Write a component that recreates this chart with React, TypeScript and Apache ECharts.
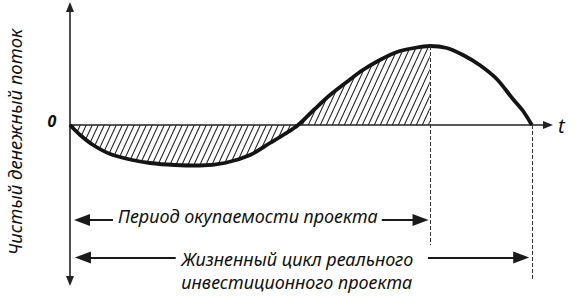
import React, { useEffect, useRef } from "react";
import * as echarts from "echarts";

// Time axis (arbitrary units) and net cash flow (arbitrary units)
const timePoints = [
  0, 0.22, 0.5, 0.87, 1.3, 1.73, 2.27, 2.81, 3.35, 3.9, 4.33, 4.65, 4.94,
  5.3, 5.63, 5.99, 6.34, 6.71, 7.08, 7.45, 7.79, 8.16, 8.51, 8.87, 9.24, 9.59, 9.81, 10,
];
const cashFlow = [
  0, -1.0, -2.0, -2.9, -3.45, -3.8, -4.0, -4.05, -3.8, -3.0, -1.8, -0.9, 0,
  1.6, 3.0, 4.3, 5.5, 6.5, 7.3, 7.7, 7.9, 7.7, 7.0, 6.0, 4.6, 2.6, 1.4, 0,
];

const paybackEnd = 7.79; // end of payback period (peak of curve)
const lifeEnd = 10; // end of project life cycle

const yAxisTitle = "Чистый денежный поток";
const zeroLabel = "0";
const xAxisName = "t";
const paybackLabel = "Период окупаемости проекта";
const lifeLabelLines = ["Жизненный цикл реального", "инвестиционного проекта"];

// annotation levels (data units)
const paybackArrowLevel = -9.5;
const lifeArrowLevel = -13.25;
const paybackDashBottom = -12.0;
const lifeDashBottom = -15.6;

const FONT = '"Noto Sans", "Liberation Sans", sans-serif';

function hatchPattern() {
  const w = 6;
  const h = 13;
  const s = h / w;
  const lines = [0, 1, 2]
    .map((k) => `M-1 ${k * h + s} L${w + 1} ${k * h - h - s}`)
    .join(" ");
  const svg = `<svg xmlns='http://www.w3.org/2000/svg' width='${w}' height='${h}'><path d='${lines}' stroke='#222' stroke-width='1.1' fill='none'/></svg>`;
  return {
    image: "data:image/svg+xml;charset=utf-8," + encodeURIComponent(svg),
    repeat: "repeat",
    imageWidth: w,
    imageHeight: h,
  };
}

export default function App() {
  const ref = useRef<HTMLDivElement>(null);

  useEffect(() => {
    if (!ref.current) return;
    const chart = echarts.init(ref.current, null, { renderer: "svg" });
    const curve = timePoints.map((t, i) => [t, cashFlow[i]]);
    const paybackIdx = timePoints.indexOf(paybackEnd);
    const hatched = curve.slice(0, paybackIdx + 1);
    const peakValue = cashFlow[paybackIdx];

    const arrowSym = [12, 16];
    const arrowInset = 0.17;
    const head = (coord: number[]) => ({ coord, symbol: "triangle", symbolSize: arrowSym });
    const tail = (coord: number[]) => ({ coord, symbol: "none" });

    chart.setOption({
      animation: false,
      backgroundColor: "#ffffff",
      grid: { left: 70, right: 29, top: 7, bottom: 17 },
      xAxis: {
        type: "value",
        min: 0,
        max: 10.35,
        name: xAxisName,
        nameLocation: "end",
        nameGap: 10,
        nameTextStyle: { fontFamily: FONT, fontStyle: "italic", fontSize: 20, color: "#111", padding: [8, 0, 0, 0] },
        axisLine: {
          show: true,
          onZero: true,
          symbol: ["none", "triangle"],
          symbolSize: [8, 10],
          lineStyle: { color: "#222", width: 1.6 },
        },
        axisTick: { show: false },
        axisLabel: { show: false },
        splitLine: { show: false },
      },
      yAxis: {
        type: "value",
        min: -15.6,
        max: 11.8,
        axisLine: {
          show: true,
          onZero: true,
          symbol: ["triangle", "triangle"],
          symbolSize: [8, 10],
          lineStyle: { color: "#222", width: 1.6 },
        },
        axisTick: { show: false },
        axisLabel: { show: false },
        splitLine: { show: false },
      },
      series: [
        {
          type: "line",
          data: hatched,
          smooth: 0.3,
          symbol: "none",
          lineStyle: { width: 0 },
          areaStyle: { color: hatchPattern(), opacity: 1 },
          silent: true,
          z: 1,
        },
        {
          type: "line",
          data: curve,
          smooth: 0.3,
          symbol: "none",
          lineStyle: { width: 3.8, color: "#141414" },
          silent: true,
          z: 3,
          markLine: {
            silent: true,
            symbol: "none",
            label: { show: false },
            lineStyle: { type: [4, 2], color: "#333", width: 1 },
            data: [
              [{ coord: [paybackEnd, peakValue] }, { coord: [paybackEnd, paybackDashBottom] }],
              [{ coord: [lifeEnd, 0] }, { coord: [lifeEnd, lifeDashBottom] }],
            ],
          },
        },
        {
          type: "line",
          data: [],
          silent: true,
          markLine: {
            silent: true,
            label: { show: false },
            symbolSize: arrowSym,
            lineStyle: { type: "solid", color: "#1a1a1a", width: 2 },
            itemStyle: { color: "#1a1a1a" },
            data: [
              [head([0.09 + arrowInset, paybackArrowLevel]), tail([0.93, paybackArrowLevel])],
              [tail([6.75, paybackArrowLevel]), head([paybackEnd - 0.03 - arrowInset, paybackArrowLevel])],
              [head([0.11 + arrowInset, lifeArrowLevel]), tail([2.29, lifeArrowLevel])],
              [tail([7.75, lifeArrowLevel]), head([lifeEnd - 0.06 - arrowInset, lifeArrowLevel])],
            ],
          },
        },
      ],
    });

    const px = (t: number, v: number) => chart.convertToPixel({ gridIndex: 0 }, [t, v]) as number[];
    const zero = px(0, 0);
    const midY = px(0, (11.8 - 15.6) / 2)[1];
    const p1 = px(1.04, -9.05);
    const l1 = px(2.41, -13.35);
    const l2 = px(2.41, -15.65);
    const textStyle = (text: string, extra: any = {}) => ({
      text,
      font: `italic 18px ${FONT}`,
      fill: "#111",
      ...extra,
    });

    chart.setOption({
      graphic: [
        {
          type: "text",
          x: zero[0] - 56,
          y: midY - 2,
          rotation: Math.PI / 2,
          style: textStyle(yAxisTitle, { align: "center", verticalAlign: "middle", font: `italic 18.5px ${FONT}` }),
        },
        {
          type: "text",
          x: zero[0] - 18,
          y: zero[1] - 4,
          style: textStyle(zeroLabel, { align: "center", verticalAlign: "middle", font: `italic bold 16px ${FONT}` }),
        },
        {
          type: "text",
          x: p1[0],
          y: p1[1],
          style: textStyle(paybackLabel, { align: "left", verticalAlign: "middle" }),
        },
        {
          type: "text",
          x: l1[0],
          y: l1[1],
          style: textStyle(lifeLabelLines[0], { align: "left", verticalAlign: "middle" }),
        },
        {
          type: "text",
          x: l2[0],
          y: l2[1],
          style: textStyle(lifeLabelLines[1], { align: "left", verticalAlign: "middle" }),
        },
      ],
    });

    return () => chart.dispose();
  }, []);

  return (
    <div
      ref={ref}
      style={{ position: "fixed", left: 0, top: 0, width: 577, height: 298, background: "#fff" }}
    />
  );
}
